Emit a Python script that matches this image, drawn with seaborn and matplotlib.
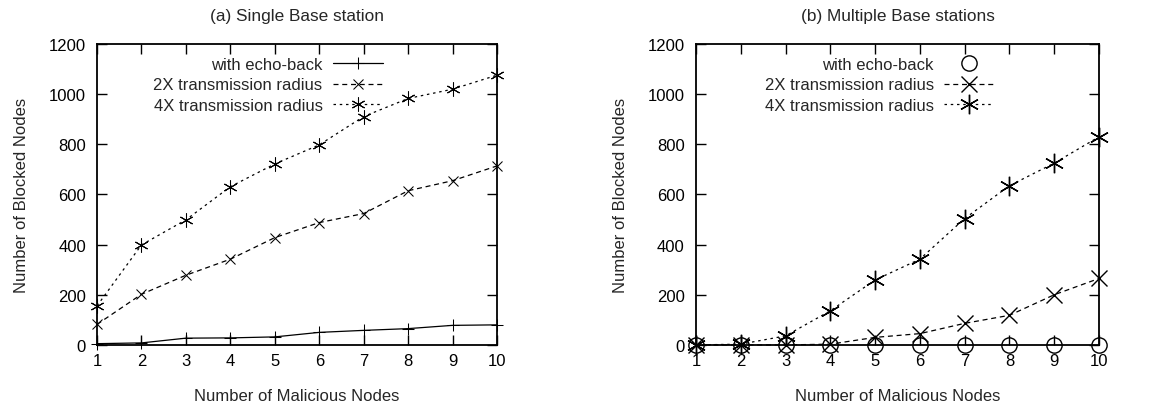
import matplotlib
matplotlib.use("Agg")
import matplotlib.pyplot as plt
import numpy as np
import pandas as pd
import seaborn as sns

# ----------------------------------------------------------------------------
# Data
# ----------------------------------------------------------------------------

MALICIOUS = [1, 2, 3, 4, 5, 6, 7, 8, 9, 10]

SINGLE_ECHO = [5, 8, 27, 28, 32, 50, 58, 65, 78, 80]
SINGLE_2X = [82, 202, 278, 342, 428, 488, 524, 615, 655, 714]
SINGLE_4X = [156, 399, 499, 631, 722, 798, 911, 983, 1020, 1076]

MULTI_ECHO = [0, 0, 0, 0, 0, 0, 0, 0, 0, 0]
MULTI_2X = [0, 0, 0, 3, 30, 45, 86, 118, 200, 265]
MULTI_4X = [0, 3, 36, 136, 259, 342, 504, 635, 725, 830]

SERIES = ["with echo-back", "2X transmission radius", "4X transmission radius"]
TITLES = ["(a) Single Base station", "(b) Multiple Base stations"]


sns.set_theme(style="ticks")
plt.rcParams["font.family"] = ["Liberation Sans", "DejaVu Sans"]
plt.rcParams["xtick.direction"] = "in"
plt.rcParams["ytick.direction"] = "in"


def make_frame(echo, x2, x4):
    rows = []
    for name, vals in zip(SERIES, [echo, x2, x4]):
        for x, v in zip(MALICIOUS, vals):
            rows.append({"nodes": x, "blocked": v, "series": name})
    return pd.DataFrame(rows)


def draw_panel(ax, df, title, styles, legend_x):
    for name in SERIES:
        sub = df[df["series"] == name]
        st = styles[name]
        sns.lineplot(data=sub, x="nodes", y="blocked", ax=ax, color="black",
                     markeredgecolor="black", label=name, **st)
    ax.set_xlim(1, 10)
    ax.set_ylim(0, 1200)
    ax.set_xticks(MALICIOUS)
    ax.set_yticks(np.arange(0, 1201, 200))
    ax.tick_params(axis="both", which="both", direction="in", length=7,
                   width=1, top=True, right=True, labelsize=12,
                   colors="black")
    ax.tick_params(axis="y", pad=8)
    ax.tick_params(axis="x", pad=6)
    for sp in ax.spines.values():
        sp.set_visible(True)
        sp.set_color("black")
        sp.set_linewidth(1.3)
    ax.set_xlabel("Number of Malicious Nodes", fontsize=12, labelpad=14)
    ax.set_ylabel("Number of Blocked Nodes", fontsize=12, labelpad=14)
    ax.set_title(title, fontsize=12.4, pad=17)
    ax.legend(loc="upper right", bbox_to_anchor=(legend_x, 1.0),
              frameon=False, markerfirst=False, fontsize=12,
              handlelength=3.0, handletextpad=0.6, labelspacing=0.35,
              borderaxespad=0.35)


ASTERISK = (6, 2, 0)

styles_a = {
    SERIES[0]: dict(marker="+", markersize=8, linewidth=0.9, linestyle="-"),
    SERIES[1]: dict(marker="x", markersize=7, linewidth=0.9,
                    linestyle=(0, (4, 3))),
    SERIES[2]: dict(marker=ASTERISK, markersize=10, linewidth=0.9,
                    linestyle=(0, (2, 3))),
}
styles_b = {
    SERIES[0]: dict(marker="o", markersize=11, fillstyle="none",
                    linestyle="none", markeredgewidth=1.0),
    SERIES[1]: dict(marker="x", markersize=12, linewidth=0.9,
                    linestyle=(0, (4, 3)), markeredgewidth=1.0),
    SERIES[2]: dict(marker=ASTERISK, markersize=14, linewidth=0.9,
                    linestyle=(0, (2, 3)), markeredgewidth=1.0),
}

fig = plt.figure(figsize=(11.75, 4.06), dpi=100)
ax1 = fig.add_axes([0.0826, 0.148, 0.3404, 0.741])
ax2 = fig.add_axes([0.5923, 0.148, 0.343, 0.741])

draw_panel(ax1, make_frame(SINGLE_ECHO, SINGLE_2X, SINGLE_4X), TITLES[0],
           styles_a, 0.745)
draw_panel(ax2, make_frame(MULTI_ECHO, MULTI_2X, MULTI_4X), TITLES[1],
           styles_b, 0.77)
for ln in ax2.lines:
    ln.set_clip_on(False)
for ln in ax1.lines:
    ln.set_clip_on(False)

fig.savefig("out.png", dpi=100)
